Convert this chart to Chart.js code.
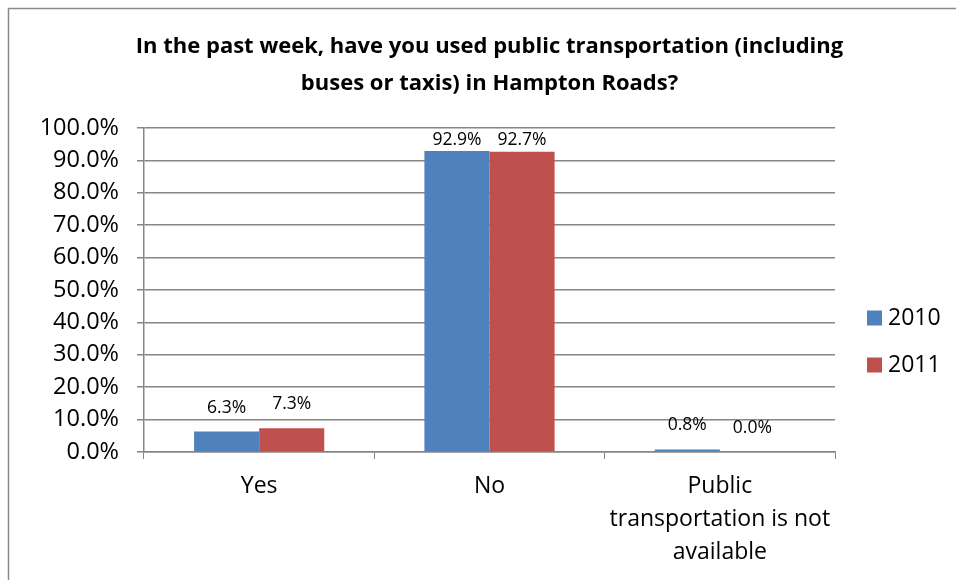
<!DOCTYPE html>
<html>
<head>
<meta charset="utf-8">
<script src="https://cdn.jsdelivr.net/npm/chart.js@4"></script>
<style>
html,body{margin:0;padding:0;background:#fff;}
#wrap{width:956px;height:580px;position:relative;}
</style>
</head>
<body>
<div id="wrap"><canvas id="c" width="956" height="580"></canvas></div>
<script>
const titleLines = ["In the past week, have you used public transportation (including", "buses or taxis) in Hampton Roads?"];
const categories = ["Yes", "No", ["Public", "transportation is not", "available"]];
const seriesNames = ["2010", "2011"];
const values2010 = [6.3, 92.9, 0.8];
const values2011 = [7.3, 92.7, 0.0];
const yTicks = [0, 10, 20, 30, 40, 50, 60, 70, 80, 90, 100];
const colors = ["#4F81BD", "#C0504D"];

const FONT = "'Open Sans', 'Liberation Sans', sans-serif";
const GRID = "#868686";

const framePlugin = {
  id: 'frame',
  beforeDraw(chart) {
    const ctx = chart.ctx;
    ctx.save();
    ctx.fillStyle = '#fff';
    ctx.fillRect(0, 0, chart.width, chart.height);
    ctx.strokeStyle = '#8a8a8a';
    ctx.lineWidth = 1.5;
    ctx.strokeRect(8.5, 8.5, chart.width + 20, chart.height + 20);
    ctx.restore();
  },
  afterDraw(chart) {
    const ctx = chart.ctx;
    const ca = chart.chartArea;
    ctx.save();
    // title
    ctx.fillStyle = '#000';
    ctx.font = "bold 22px " + FONT;
    ctx.textAlign = 'center';
    ctx.textBaseline = 'middle';
    const cx = (ca.left + ca.right) / 2;
    titleLines.forEach((t, i) => ctx.fillText(t, cx, 47 + i * 37));
    // data labels
    ctx.font = "17.5px " + FONT;
    chart.data.datasets.forEach((ds, di) => {
      const meta = chart.getDatasetMeta(di);
      meta.data.forEach((bar, i) => {
        const y = Math.max(bar.y - 24, ca.top + 12);
        ctx.fillText(ds.data[i].toFixed(1) + '%', bar.x, y);
      });
    });
    // legend
    ctx.font = "23px " + FONT;
    ctx.textAlign = 'left';
    chart.data.datasets.forEach((ds, di) => {
      const yc = 318 + di * 47;
      ctx.fillStyle = ds.backgroundColor;
      ctx.fillRect(867, yc - 7.5, 15, 15);
      ctx.fillStyle = '#000';
      ctx.fillText(ds.label, 888, yc);
    });
    ctx.restore();
  }
};

new Chart(document.getElementById('c'), {
  type: 'bar',
  data: {
    labels: categories,
    datasets: [
      { label: seriesNames[0], data: values2010, backgroundColor: colors[0] },
      { label: seriesNames[1], data: values2011, backgroundColor: colors[1] }
    ]
  },
  options: {
    responsive: false,
    animation: false,
    devicePixelRatio: 1,
    layout: { padding: { top: 128, right: 121, left: 0, bottom: 0 } },
    plugins: { legend: { display: false }, title: { display: false }, tooltip: { enabled: false } },
    datasets: { bar: { categoryPercentage: 130 / 230, barPercentage: 1.0 } },
    scales: {
      x: {
        grid: { drawOnChartArea: false, drawTicks: true, tickLength: 7, color: GRID, offset: true },
        border: { color: GRID, width: 1.5 },
        ticks: { color: '#000', font: { family: FONT, size: 23, lineHeight: 1.43 }, padding: 11, maxRotation: 0, autoSkip: false },
        afterFit(s) { s.height = 128; }
      },
      y: {
        min: 0, max: 100,
        afterBuildTicks(s) { s.ticks = yTicks.map(v => ({ value: v })); },
        grid: { color: GRID, lineWidth: 1.5, tickLength: 7 },
        border: { color: GRID, width: 1.5 },
        ticks: { color: '#000', font: { family: FONT, size: 23.5 }, padding: 18, callback: v => v.toFixed(1) + '%' },
        afterFit(s) { s.width = 144; }
      }
    }
  },
  plugins: [framePlugin]
});
</script>
</body>
</html>
